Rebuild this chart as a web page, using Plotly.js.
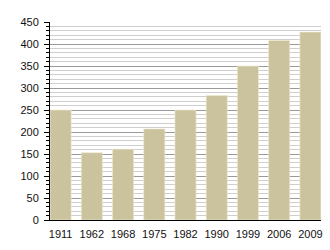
<!DOCTYPE html>
<html>
<head>
<meta charset="utf-8">
<script src="https://cdn.plot.ly/plotly-3.0.1.min.js"></script>
<style>html,body{margin:0;padding:0;background:#fff;}#chart{width:330px;height:250px;}</style>
</head>
<body>
<div id="chart"></div>
<script>
const years = ["1911", "1962", "1968", "1975", "1982", "1990", "1999", "2006", "2009"];
const values = [250, 153, 161, 207, 250, 283, 350, 408, 427];
const yTicks = [0, 50, 100, 150, 200, 250, 300, 350, 400, 450];

const trace = {
  type: "bar",
  x: years,
  y: values,
  width: 0.675,
  marker: {color: "#cbc39d", line: {color: "#efe9cf", width: 0.6}},
  hoverinfo: "none"
};

const layout = {
  width: 330,
  height: 250,
  margin: {l: 50, r: 9, t: 22, b: 30, pad: 0},
  paper_bgcolor: "#ffffff",
  plot_bgcolor: "#ffffff",
  showlegend: false,
  font: {family: "Liberation Sans, Arial, sans-serif", size: 11, color: "#111111"},
  xaxis: {
    type: "category",
    range: [-0.34, 8.34],
    showgrid: false,
    ticks: "",
    showline: true,
    linecolor: "#000000",
    linewidth: 1.2,
    ticklabelstandoff: 4,
    tickfont: {size: 11, color: "#111111"},
    fixedrange: true
  },
  yaxis: {
    range: [0, 450],
    tickvals: yTicks,
    ticktext: yTicks.map(String),
    showline: true,
    linecolor: "#000000",
    linewidth: 1,
    ticks: "outside",
    ticklen: 5,
    tickwidth: 1,
    tickcolor: "#000000",
    ticklabelstandoff: 3,
    showgrid: true,
    gridcolor: "#9a9a9a",
    gridwidth: 1,
    zeroline: false,
    tickfont: {size: 11, color: "#111111"},
    minor: {
      dtick: 10,
      ticks: "outside",
      ticklen: 3,
      tickcolor: "#000000",
      showgrid: true,
      gridcolor: "#cfcfcf",
      gridwidth: 1
    },
    fixedrange: true
  }
};

Plotly.newPlot("chart", [trace], layout, {staticPlot: true, displayModeBar: false});
</script>
</body>
</html>
